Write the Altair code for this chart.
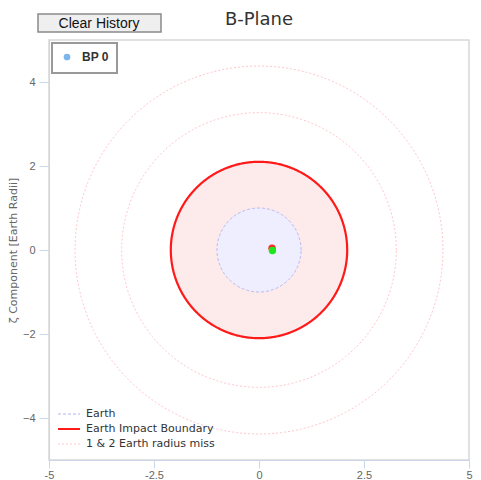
import numpy as np
import pandas as pd
import altair as alt

# ---- data ----
earth_radius = 1.0
impact_radius = 2.1
miss_radii = [3.27, 4.38]
impact_pt = (0.31, 0.04)
bp0_pt = (0.32, -0.01)
legend_labels = ["Earth", "Earth Impact Boundary", "1 & 2 Earth radius miss"]
legend_colors = ["#b4b4f2", "#ff1a1a", "#ffc6cc"]
legend_dash = [[3, 2], [1, 0], [2, 2]]
legend_width = [1, 2.2, 1]
x_ticks = [-5, -2.5, 0, 2.5, 5]
y_ticks = [-4, -2, 0, 2, 4]

W = H = 420
xs = alt.Scale(domain=[-5, 5], nice=False, zero=False)
ys = alt.Scale(domain=[-5, 5], nice=False, zero=False)

t = np.linspace(0, 2 * np.pi, 361)
th = np.linspace(np.pi, 0, 361)


def ring(r, name, ring_id):
    return pd.DataFrame({"x": r * np.cos(t), "y": r * np.sin(t), "i": np.arange(len(t)),
                         "series": name, "ring": ring_id})


def disc(r):
    return pd.DataFrame({"x": r * np.cos(th), "y": r * np.sin(th), "y2": -r * np.sin(th)})


x_axis = alt.Axis(values=x_ticks, labelExpr="'' + datum.value", grid=False,
                  domainColor="#ccd6eb", tickColor="#ccd6eb", tickSize=8, labelColor="#666",
                  labelFontSize=11, labelFont="Liberation Sans", title=None, labelPadding=1,
                  labelFlush=False)
y_axis = alt.Axis(values=y_ticks, grid=False, domainColor="#ccd6eb", tickColor="#ccd6eb",
                  tickSize=10, labelColor="#666", labelFontSize=11, labelFont="Liberation Sans",
                  labelPadding=4,
                  title="ζ Component [Earth Radii]", titleColor="#666", titleFontSize=11,
                  titleFont="DejaVu Sans", titleFontWeight="normal", titlePadding=4)

# filled discs
impact_fill = alt.Chart(disc(impact_radius)).mark_area(color="#fdeaea", opacity=1).encode(
    x=alt.X("x:Q", scale=xs, axis=x_axis),
    y=alt.Y("y:Q", scale=ys, axis=y_axis),
    y2="y2:Q",
)
earth_fill = alt.Chart(disc(earth_radius)).mark_area(color="#eeeeff", opacity=1).encode(
    x=alt.X("x:Q", scale=xs), y=alt.Y("y:Q", scale=ys), y2="y2:Q"
)

layers = [impact_fill, earth_fill]

rings = [ring(earth_radius, legend_labels[0], 0), ring(impact_radius, legend_labels[1], 1)]
for k, r in enumerate(miss_radii):
    rings.append(ring(r, legend_labels[2], 2 + k))
for k, df in enumerate(rings):
    li = legend_labels.index(df["series"].iloc[0])
    layers.append(
        alt.Chart(df).mark_line(color=legend_colors[li], strokeDash=legend_dash[li],
                                strokeWidth=legend_width[li]).encode(
            x=alt.X("x:Q", scale=xs), y=alt.Y("y:Q", scale=ys), order="i:Q"
        )
    )

for (px, py), col in [(impact_pt, "#ff2a2a"), (bp0_pt, "#1ee51e")]:
    layers.append(
        alt.Chart(pd.DataFrame({"x": [px], "y": [py]})).mark_circle(
            size=55, opacity=1, color=col).encode(
            x=alt.X("x:Q", scale=xs), y=alt.Y("y:Q", scale=ys))
    )

one = pd.DataFrame({"a": [0]})

# line legend (bottom-left, inside plot)
for i, lab in enumerate(legend_labels):
    yy = 374 + i * 15
    layers.append(alt.Chart(one).mark_rule(
        color=legend_colors[i], strokeDash=legend_dash[i], strokeWidth=legend_width[i]).encode(
        x=alt.value(9), x2=alt.value(31), y=alt.value(yy)))
    layers.append(alt.Chart(one).mark_text(
        text=lab, align="left", baseline="middle", fontSize=11, font="DejaVu Sans",
        color="#333").encode(x=alt.value(37), y=alt.value(yy)))

# BP 0 legend box
layers.append(alt.Chart(one).mark_rect(fill="white", stroke="#999", strokeWidth=2).encode(
    x=alt.value(3), x2=alt.value(68), y=alt.value(3), y2=alt.value(33)))
layers.append(alt.Chart(one).mark_circle(color="#7cb5ec", size=45, opacity=1).encode(
    x=alt.value(18), y=alt.value(17)))
layers.append(alt.Chart(one).mark_text(text="BP 0", align="left", baseline="middle",
                                        fontSize=12, fontWeight="bold", font="Liberation Sans",
                                        color="#333").encode(x=alt.value(33), y=alt.value(17)))

# Clear History button
layers.append(alt.Chart(one).mark_rect(fill="#efefef", stroke="#8a8a8a", strokeWidth=1.5).encode(
    x=alt.value(-11), x2=alt.value(112), y=alt.value(-26), y2=alt.value(-8)))
layers.append(alt.Chart(one).mark_text(text="Clear History", align="center", baseline="middle",
                                        fontSize=14, font="Liberation Sans",
                                        color="#111").encode(x=alt.value(50), y=alt.value(-16)))

# Title
layers.append(alt.Chart(one).mark_text(text="B-Plane", align="center", baseline="alphabetic",
                                        fontSize=18, font="DejaVu Sans",
                                        color="#333").encode(x=alt.value(W / 2), y=alt.value(-15)))

chart = alt.layer(*layers).properties(
    width=W, height=H,
    autosize=alt.AutoSizeParams(type="none"),
    padding={"left": 41, "top": 32, "right": 4, "bottom": 20},
).configure_view(stroke="#d8d8d8", strokeWidth=1.5)

chart.save("out.html", embed_options={"renderer": "svg", "actions": False})
